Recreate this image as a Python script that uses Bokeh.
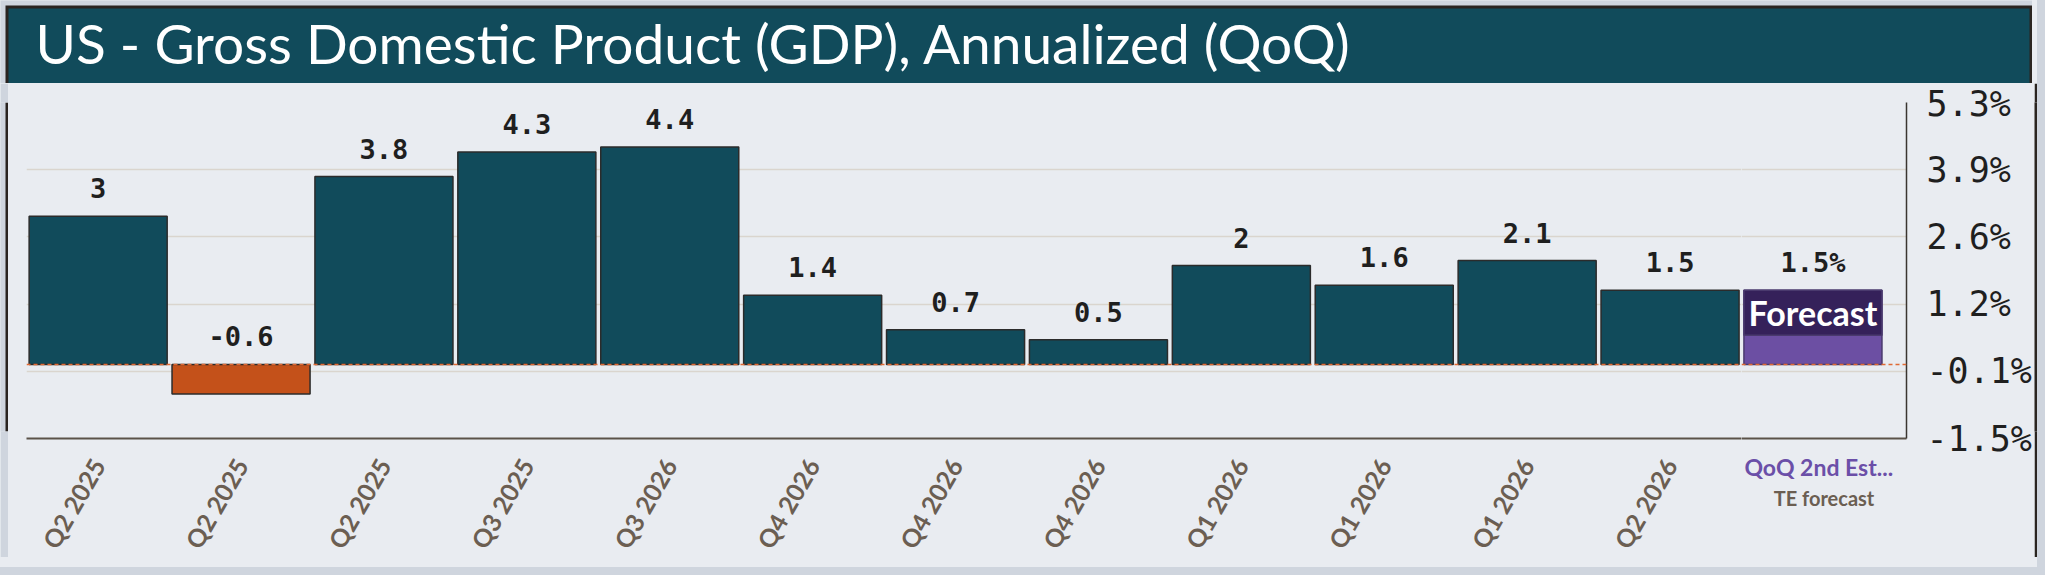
import math
import numpy as np
from bokeh.plotting import figure
from bokeh.models import Range1d, FixedTicker, PrintfTickFormatter, Span, ColumnDataSource
from bokeh.layouts import column, row
from bokeh.core.properties import value
from bokeh.embed import file_html
from bokeh.resources import INLINE

# ---------------- data ----------------
title_text = "US - Gross Domestic Product (GDP), Annualized (QoQ)"
quarters = ["Q2 2025", "Q2 2025", "Q2 2025", "Q3 2025", "Q3 2026", "Q4 2026",
            "Q4 2026", "Q4 2026", "Q1 2026", "Q1 2026", "Q1 2026", "Q2 2026"]
gdp = [3.0, -0.6, 3.8, 4.3, 4.4, 1.4, 0.7, 0.5, 2.0, 1.6, 2.1, 1.5]
gdp_labels = ["3", "-0.6", "3.8", "4.3", "4.4", "1.4", "0.7", "0.5", "2", "1.6", "2.1", "1.5"]
forecast_value = 1.5
forecast_label = "1.5%"
forecast_badge = "Forecast"
forecast_name = "QoQ 2nd Est..."
forecast_source = "TE forecast"
y_min, y_max = -1.5, 5.3
n_yticks = 6

# ---------------- style ----------------
BG = "#e9ecf1"
BAND = "#cfd5de"
DARK = "#2a2420"
TEAL = "#114b5b"
ORANGE = "#c4511a"
PURPLE_L = "#6c4fa3"
PURPLE_D = "#35215a"
OUTLINE = "#2b2b2b"
TXT = "#1f1f1f"
XLAB = "#6b5e52"
GRID = "#dad5ce"

W, H = 2032, 560
PAD, EDGE = 5, 3          # light band, dark border
TOP_H = 83                # band + border + title strip
BOT_H = EDGE
MAIN_H = H - TOP_H - BOT_H
LEFT_W = PAD + EDGE
FH = 336
BL, BT = 18, 19
BB = MAIN_H - BT - FH
FW_MAIN, FW_FC = 1715, 165
BR = W - LEFT_W - EDGE - BL - FW_MAIN - FW_FC
PX = 142.9                # pixels per category
BAR_W = 0.966
LABEL_GAP = -28           # label centre above bar top (px)
n = len(quarters)
split = n - 0.5


def deco(width, height, bg):
    d = figure(width=width, height=height, x_range=Range1d(0, width), y_range=Range1d(0, height),
               x_axis_type=None, y_axis_type=None, toolbar_location=None, title=None,
               output_backend="svg", min_border=0,
               background_fill_color=bg, border_fill_color=bg, outline_line_color=None)
    d.grid.visible = False
    return d


# ---------------- title strip (with frame edges) ----------------
t = deco(W, TOP_H, BAND)
t.quad(left=PAD, right=W, bottom=0, top=TOP_H - PAD, fill_color=DARK, line_color=None)
t.quad(left=PAD + EDGE, right=W - EDGE, bottom=0, top=TOP_H - PAD - EDGE,
       fill_color=TEAL, line_color=None)
t.text(x=[35], y=[TOP_H - 42.5], text=[title_text], text_baseline="middle", text_align="left",
       text_font=value("Lato"), text_font_size="55px", text_color="#ffffff")

left = deco(LEFT_W, MAIN_H, BAND)
left.quad(left=PAD, right=LEFT_W, bottom=0, top=MAIN_H, fill_color=DARK, line_color=None)
right = deco(EDGE, MAIN_H, DARK)
bottom = deco(W, BOT_H, BAND)
bottom.quad(left=PAD, right=W, bottom=0, top=BOT_H, fill_color=DARK, line_color=None)

yrange = Range1d(y_min, y_max)
yticker = FixedTicker(ticks=[float(v) for v in np.linspace(y_min, y_max, n_yticks)])


def common(fig):
    fig.xgrid.visible = False
    fig.ygrid.ticker = yticker
    fig.ygrid.grid_line_color = GRID
    fig.ygrid.grid_line_width = 1.5
    fig.xaxis.major_tick_line_color = None
    fig.xaxis.minor_tick_line_color = None
    fig.xaxis.axis_line_color = "#5b5249"
    fig.xaxis.axis_line_width = 2
    fig.add_layout(Span(location=0, dimension="width", line_color="#e06a35",
                        line_dash="4 3", line_width=1.5))


# ---------------- main chart (history) ----------------
p = figure(frame_width=FW_MAIN, frame_height=FH, title=None,
           x_range=Range1d(split - FW_MAIN / PX, split), y_range=yrange,
           y_axis_location=None, toolbar_location=None, output_backend="svg",
           min_border_left=BL, min_border_right=0, min_border_top=BT, min_border_bottom=BB,
           background_fill_color=BG, border_fill_color=BG, outline_line_color=None)

p.xaxis.ticker = FixedTicker(ticks=list(range(n)))
p.xaxis.major_label_overrides = {i: q for i, q in enumerate(quarters)}
p.xaxis.major_label_orientation = math.pi / 3
p.xaxis.major_label_text_font = "Lato"
p.xaxis.major_label_text_font_size = "25px"
p.xaxis.major_label_text_font_style = "bold"
p.xaxis.major_label_text_color = XLAB
p.xaxis.major_label_standoff = 16
common(p)

src = ColumnDataSource(dict(
    x=list(range(n)),
    top=gdp,
    color=[TEAL if v >= 0 else ORANGE for v in gdp],
    ly=[max(v, 0) for v in gdp],
    lab=gdp_labels,
))
p.vbar(x="x", top="top", bottom=0, width=BAR_W, fill_color="color",
       line_color=OUTLINE, line_width=1.5, source=src)
p.text(x="x", y="ly", text="lab", source=src, text_align="center",
       text_baseline="middle", y_offset=LABEL_GAP, text_font=value("DejaVu Sans Mono"),
       text_font_size="27px", text_font_style="bold", text_color=TXT)

# ---------------- forecast panel ----------------
f = figure(frame_width=FW_FC, frame_height=FH, title=None,
           x_range=Range1d(split, split + FW_FC / PX), y_range=yrange,
           y_axis_location="right", toolbar_location=None, output_backend="svg",
           min_border_left=0, min_border_right=BR, min_border_top=BT, min_border_bottom=BB,
           background_fill_color=BG, border_fill_color=BG, outline_line_color=None)

f.yaxis.ticker = yticker
f.yaxis.formatter = PrintfTickFormatter(format="%.1f%%")
f.yaxis.major_label_text_font = "DejaVu Sans Mono"
f.yaxis.major_label_text_font_size = "35px"
f.yaxis.major_label_text_color = TXT
f.yaxis.major_label_standoff = 14
f.yaxis.major_tick_line_color = None
f.yaxis.minor_tick_line_color = None
f.yaxis.axis_line_color = "#3a3530"
f.yaxis.axis_line_width = 1.5

f.xaxis.ticker = FixedTicker(ticks=[n])
f.xaxis.major_label_overrides = {n: forecast_name}
f.xaxis.major_label_orientation = "horizontal"
f.xaxis.major_label_text_font = "Lato"
f.xaxis.major_label_text_font_size = "23px"
f.xaxis.major_label_text_font_style = "bold"
f.xaxis.major_label_text_color = "#6b4fa8"
f.xaxis.major_label_standoff = 8
f.xaxis.axis_label = forecast_source
f.xaxis.axis_label_text_font = "Lato"
f.xaxis.axis_label_text_font_size = "20px"
f.xaxis.axis_label_text_font_style = "bold"
f.xaxis.axis_label_text_color = XLAB
f.xaxis.axis_label_standoff = 2
common(f)

band = 45 * (y_max - y_min) / FH
f.vbar(x=[n], top=[forecast_value], bottom=0, width=BAR_W, fill_color=PURPLE_L,
       line_color="#4a3a6e", line_width=1.5)
f.vbar(x=[n], top=[forecast_value], bottom=[forecast_value - band], width=BAR_W,
       fill_color=PURPLE_D, line_color="#4a3a6e", line_width=1.5)
f.text(x=[n], y=[forecast_value - band / 2], text=[forecast_badge], text_align="center",
       text_baseline="middle", text_font=value("Lato"), text_font_size="34px",
       text_font_style="bold", text_color="#ffffff")
f.text(x=[n], y=[forecast_value], text=[forecast_label], text_align="center",
       text_baseline="middle", y_offset=LABEL_GAP, text_font=value("DejaVu Sans Mono"),
       text_font_size="27px", text_font_style="bold", text_color=TXT)

layout = column(t, row(left, p, f, right), bottom,
                styles={"box-shadow": "0 0 0 8px " + BAND, "background-color": BG})

open("out.html", "w").write(file_html(layout, INLINE))
